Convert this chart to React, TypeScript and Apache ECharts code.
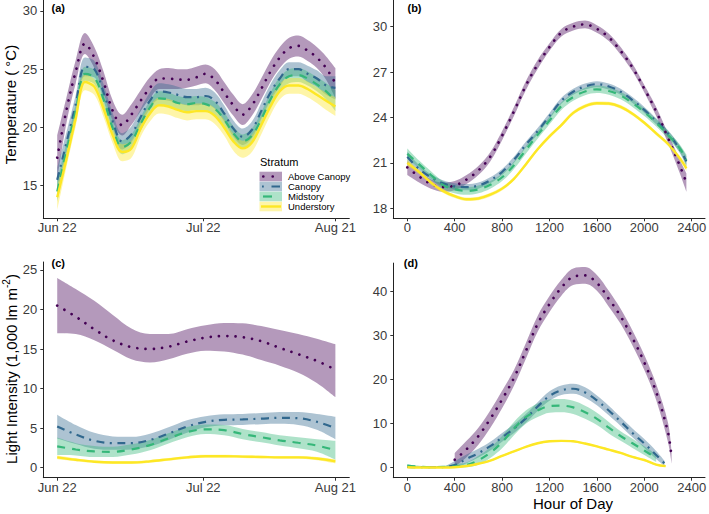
import React, { useEffect, useRef } from "react";
import * as echarts from "echarts";

const FONT = "'Liberation Sans', Arial, Helvetica, sans-serif";
const STRATA = ["Above Canopy", "Canopy", "Midstory", "Understory"];
const COLORS = ["#440154", "#31688E", "#35B779", "#FDE725"];

const DATE_TICKS = [0, 31.5, 60];
const DATE_TICK_LABELS = ["Jun 22", "Jul 22", "Aug 21"];
const HOUR_TICKS = [0, 400, 800, 1200, 1600, 2000, 2400];
const TEMP_DAY_TICKS = [15, 20, 25, 30];
const TEMP_HOUR_TICKS = [18, 21, 24, 27, 30];
const LIGHT_DAY_TICKS = [0, 5, 10, 15, 20, 25];
const LIGHT_HOUR_TICKS = [0, 10, 20, 30, 40];

// ---------- Panel (a): temperature by date (days after Jun 22) ----------
const DAYS_A = [0, 2, 4, 6, 8, 10, 12, 14, 16, 18, 20, 22, 24, 26, 28, 30, 32, 34, 36, 38, 40, 42, 44, 46, 48, 50, 52, 54, 56, 58, 60];
const A_AC = [17.4, 21.5, 24.8, 27.2, 26.0, 23.9, 21.4, 20.2, 21.1, 22.3, 23.4, 24.2, 24.2, 24.1, 24.1, 24.3, 24.6, 24.1, 23.0, 21.9, 21.1, 21.9, 23.3, 24.8, 26.0, 26.8, 27.0, 26.6, 26.0, 25.1, 23.8];
const A_AC_HI = [19.3, 22.6, 25.8, 28.1, 26.9, 24.8, 22.3, 21.1, 22.0, 23.2, 24.3, 25.0, 25.1, 25.0, 25.0, 25.2, 25.4, 25.0, 23.9, 22.8, 22.0, 22.8, 24.2, 25.7, 26.9, 27.7, 27.9, 27.5, 26.9, 26.1, 25.1];
const A_AC_LO = [15.5, 20.4, 23.8, 26.3, 25.1, 23.0, 20.5, 19.3, 20.2, 21.4, 22.5, 23.3, 23.3, 23.3, 23.4, 23.6, 23.8, 23.2, 22.1, 21.0, 20.2, 21.0, 22.4, 23.9, 25.1, 25.9, 26.1, 25.7, 25.1, 24.1, 22.5];
const A_CA = [15.5, 18.7, 22.0, 25.2, 25.0, 23.0, 20.5, 18.8, 19.4, 20.9, 22.3, 23.1, 23.0, 22.8, 22.6, 22.6, 22.7, 22.3, 21.2, 19.9, 19.2, 19.8, 21.4, 23.0, 24.2, 25.0, 25.0, 24.6, 24.2, 23.6, 23.4];
const A_CA_HI = [16.5, 19.6, 22.8, 26.0, 25.7, 23.7, 21.2, 19.5, 20.1, 21.6, 23.0, 23.8, 23.7, 23.5, 23.3, 23.3, 23.4, 23.0, 21.9, 20.6, 19.9, 20.5, 22.1, 23.7, 24.9, 25.6, 25.6, 25.3, 24.9, 24.4, 24.4];
const A_CA_LO = [14.5, 17.8, 21.2, 24.4, 24.3, 22.3, 19.8, 18.1, 18.7, 20.2, 21.6, 22.4, 22.3, 22.1, 21.9, 21.9, 22.0, 21.6, 20.5, 19.2, 18.5, 19.1, 20.7, 22.3, 23.5, 24.4, 24.4, 23.9, 23.5, 22.8, 22.4];
const A_MI = [14.5, 18.0, 21.4, 24.6, 24.3, 22.4, 19.9, 18.3, 18.8, 20.3, 21.7, 22.5, 22.4, 22.1, 22.0, 22.1, 22.0, 21.6, 20.7, 19.5, 18.8, 19.3, 20.7, 22.4, 23.7, 24.4, 24.5, 24.2, 23.7, 23.1, 22.3];
const A_MI_HI = [15.4, 18.7, 22.0, 25.2, 24.9, 23.0, 20.5, 18.9, 19.4, 20.9, 22.3, 23.1, 23.0, 22.7, 22.6, 22.7, 22.6, 22.2, 21.3, 20.1, 19.4, 19.9, 21.3, 23.0, 24.3, 25.0, 25.1, 24.8, 24.3, 23.8, 23.2];
const A_MI_LO = [13.6, 17.3, 20.8, 24.0, 23.7, 21.8, 19.3, 17.7, 18.2, 19.7, 21.1, 21.9, 21.8, 21.5, 21.4, 21.5, 21.4, 21.0, 20.1, 18.9, 18.2, 18.7, 20.1, 21.8, 23.1, 23.8, 23.9, 23.6, 23.1, 22.4, 21.4];
const A_UN = [14.0, 17.3, 20.8, 23.9, 23.5, 21.6, 19.3, 17.9, 18.2, 19.9, 21.2, 21.9, 21.8, 21.5, 21.3, 21.4, 21.4, 21.0, 20.0, 18.8, 18.2, 18.7, 20.2, 21.8, 23.1, 23.6, 23.6, 23.3, 22.8, 22.3, 21.8];
const A_UN_HI = [15.0, 17.95, 21.45, 24.55, 24.15, 22.25, 19.95, 18.55, 18.85, 20.55, 21.85, 22.55, 22.45, 22.15, 21.95, 22.05, 22.05, 21.65, 20.65, 19.45, 18.85, 19.35, 20.85, 22.45, 23.75, 24.25, 24.25, 23.95, 23.45, 23.0, 22.6];
const A_UN_LO = [12.9, 16.6, 20.1, 23.2, 22.8, 20.9, 18.6, 17.1, 17.4, 19.2, 20.5, 21.2, 21.1, 20.8, 20.6, 20.7, 20.7, 20.3, 19.3, 18.0, 17.4, 17.9, 19.4, 21.05, 22.4, 22.9, 22.9, 22.6, 22.1, 21.5, 21.0];

// ---------- Panel (b): temperature by hour of day ----------
const HOURS_B = [0, 100, 200, 300, 400, 500, 600, 700, 800, 900, 1000, 1100, 1200, 1300, 1400, 1500, 1600, 1700, 1800, 1900, 2000, 2100, 2200, 2300, 2355];
const B_AC = [20.7, 20.1, 19.6, 19.4, 19.5, 19.9, 20.5, 21.4, 22.8, 24.4, 26.1, 27.5, 28.65, 29.6, 30.0, 30.15, 29.85, 29.3, 28.4, 27.3, 25.9, 24.4, 22.65, 20.8, 19.7];
const B_AC_HI = [21.1, 20.45, 19.9, 19.7, 19.8, 20.2, 20.8, 21.7, 23.1, 24.7, 26.4, 27.8, 28.9, 29.85, 30.25, 30.4, 30.1, 29.55, 28.65, 27.55, 26.15, 24.7, 22.95, 21.2, 20.3];
const B_AC_LO = [20.2, 19.7, 19.3, 19.1, 19.2, 19.6, 20.2, 21.1, 22.5, 24.1, 25.8, 27.2, 28.4, 29.35, 29.75, 29.9, 29.6, 29.05, 28.15, 27.05, 25.65, 24.1, 22.3, 20.3, 19.1];
const B_CA = [21.4, 20.6, 20.05, 19.65, 19.45, 19.4, 19.5, 19.85, 20.4, 21.2, 22.2, 23.1, 24.1, 25.1, 25.7, 26.05, 26.2, 26.05, 25.7, 25.15, 24.5, 23.75, 22.95, 21.9, 21.1];
const B_CA_HI = [21.75, 20.85, 20.25, 19.85, 19.65, 19.6, 19.7, 20.05, 20.6, 21.4, 22.4, 23.3, 24.3, 25.3, 25.9, 26.25, 26.4, 26.25, 25.9, 25.35, 24.7, 23.95, 23.15, 22.15, 21.45];
const B_CA_LO = [21.05, 20.35, 19.85, 19.45, 19.25, 19.2, 19.3, 19.65, 20.2, 21.0, 22.0, 22.9, 23.9, 24.9, 25.5, 25.85, 26.0, 25.85, 25.5, 24.95, 24.3, 23.55, 22.75, 21.65, 20.75];
const B_MI = [21.6, 20.9, 20.2, 19.55, 19.25, 19.15, 19.25, 19.55, 20.05, 20.85, 21.85, 22.85, 23.8, 24.75, 25.35, 25.72, 25.86, 25.75, 25.45, 24.95, 24.35, 23.65, 22.85, 21.95, 21.2];
const B_MI_HI = [21.95, 21.15, 20.45, 19.8, 19.5, 19.4, 19.5, 19.8, 20.3, 21.1, 22.1, 23.1, 24.05, 25.0, 25.6, 25.97, 26.11, 26.0, 25.7, 25.2, 24.6, 23.9, 23.1, 22.2, 21.55];
const B_MI_LO = [21.25, 20.65, 19.95, 19.3, 19.0, 18.9, 19.0, 19.3, 19.8, 20.6, 21.6, 22.6, 23.55, 24.5, 25.1, 25.47, 25.61, 25.5, 25.2, 24.7, 24.1, 23.4, 22.6, 21.7, 20.85];
const B_UN = [21.0, 20.4, 19.7, 19.15, 18.8, 18.6, 18.65, 18.9, 19.3, 19.95, 20.9, 21.9, 22.75, 23.5, 24.3, 24.75, 24.94, 24.92, 24.7, 24.25, 23.65, 22.95, 22.25, 21.3, 20.64];
const B_UN_HI = [21.2, 20.52, 19.82, 19.27, 18.92, 18.72, 18.77, 19.02, 19.42, 20.07, 21.02, 22.02, 22.87, 23.62, 24.42, 24.87, 25.06, 25.04, 24.82, 24.37, 23.77, 23.07, 22.37, 21.45, 20.85];
const B_UN_LO = [20.8, 20.28, 19.58, 19.03, 18.68, 18.48, 18.53, 18.78, 19.18, 19.83, 20.78, 21.78, 22.63, 23.38, 24.18, 24.63, 24.82, 24.8, 24.58, 24.13, 23.53, 22.83, 22.13, 21.15, 20.45];

// ---------- Panel (c): light intensity by date ----------
const DAYS_C = [0, 4, 8, 12, 16, 20, 24, 28, 32, 36, 40, 44, 48, 52, 56, 60];
const C_AC = [20.5, 19.1, 17.5, 16.1, 15.25, 15.0, 15.3, 15.95, 16.45, 16.65, 16.5, 16.0, 15.15, 14.35, 13.5, 12.4];
const C_AC_HI = [24.0, 22.6, 21.1, 19.3, 17.6, 16.9, 16.9, 17.5, 18.0, 18.3, 18.25, 17.9, 17.4, 16.9, 16.3, 15.6];
const C_AC_LO = [17.0, 16.9, 16.1, 14.9, 13.7, 13.3, 13.7, 14.4, 14.8, 14.7, 14.3, 13.6, 12.9, 12.0, 10.7, 8.9];
const C_CA = [5.2, 4.2, 3.4, 3.1, 3.1, 3.5, 4.3, 5.2, 5.8, 6.05, 6.1, 6.2, 6.3, 6.25, 5.8, 5.0];
const C_CA_HI = [6.7, 5.4, 4.4, 3.95, 3.9, 4.3, 5.1, 6.0, 6.5, 6.75, 6.8, 6.9, 7.05, 7.05, 6.8, 6.45];
const C_CA_LO = [3.7, 3.0, 2.4, 2.25, 2.3, 2.7, 3.5, 4.4, 5.1, 5.35, 5.4, 5.5, 5.55, 5.4, 4.8, 3.6];
const C_MI = [2.7, 2.3, 2.05, 2.0, 2.3, 2.85, 3.7, 4.5, 4.85, 4.75, 4.25, 3.85, 3.45, 3.15, 2.8, 2.2];
const C_MI_HI = [3.8, 3.1, 2.75, 2.65, 2.95, 3.5, 4.35, 5.15, 5.45, 5.4, 4.9, 4.5, 4.1, 3.85, 3.6, 3.4];
const C_MI_LO = [1.6, 1.55, 1.35, 1.35, 1.65, 2.2, 3.05, 3.85, 4.25, 4.1, 3.6, 3.2, 2.8, 2.45, 2.0, 1.0];
const C_UN = [1.3, 1.0, 0.75, 0.65, 0.65, 0.8, 1.05, 1.3, 1.45, 1.45, 1.4, 1.35, 1.3, 1.3, 1.15, 0.8];
const C_UN_HI = [1.55, 1.2, 0.92, 0.82, 0.82, 0.97, 1.22, 1.47, 1.62, 1.62, 1.57, 1.52, 1.47, 1.47, 1.35, 1.05];
const C_UN_LO = [1.05, 0.8, 0.58, 0.48, 0.48, 0.63, 0.88, 1.13, 1.28, 1.28, 1.23, 1.18, 1.13, 1.13, 0.95, 0.55];

// ---------- Panel (d): light intensity by hour of day ----------
const D_AC_X = [400, 500, 600, 700, 800, 900, 1000, 1100, 1200, 1300, 1400, 1500, 1600, 1700, 1800, 1900, 2000, 2100, 2200, 2230];
const D_AC = [1.8, 4.2, 7.2, 11.1, 15.5, 20.4, 26.5, 32.7, 37.2, 40.9, 43.4, 43.7, 42.0, 38.4, 34.4, 29.5, 23.9, 17.2, 8.0, 2.3];
const D_AC_HI = [3.3, 6.1, 9.1, 13.0, 17.5, 22.2, 28.3, 34.5, 39.0, 42.7, 45.3, 45.6, 43.8, 40.2, 36.1, 31.2, 25.6, 19.0, 10.2, 3.6];
const D_AC_LO = [0.3, 2.4, 5.2, 9.0, 13.5, 18.6, 24.7, 30.9, 35.4, 39.1, 41.5, 41.8, 40.2, 36.6, 32.7, 27.8, 22.2, 15.4, 5.8, 1.0];
const D_CA_X = [0, 100, 200, 300, 400, 500, 600, 700, 800, 900, 1000, 1100, 1200, 1300, 1400, 1500, 1600, 1700, 1800, 1900, 2000, 2100, 2170];
const D_CA = [0.2, 0.1, 0.1, 0.15, 0.6, 2.0, 3.3, 4.9, 6.9, 8.9, 11.2, 13.9, 16.3, 17.6, 17.95, 17.1, 15.3, 13.0, 10.5, 7.9, 5.5, 2.9, 1.0];
const D_CA_HI = [0.4, 0.25, 0.25, 0.3, 1.5, 3.0, 4.3, 5.9, 7.9, 9.9, 12.2, 14.9, 17.4, 18.7, 19.1, 18.3, 16.4, 14.1, 11.5, 8.9, 6.5, 3.8, 1.6];
const D_CA_LO = [0.0, 0.0, 0.0, 0.0, 0.0, 1.0, 2.3, 3.9, 5.9, 7.9, 10.2, 12.9, 15.2, 16.5, 16.8, 15.9, 14.2, 11.9, 9.5, 6.9, 4.5, 2.0, 0.4];
const D_MI_X = [0, 100, 200, 300, 400, 500, 600, 700, 800, 900, 1000, 1100, 1200, 1300, 1400, 1500, 1600, 1700, 1800, 1900, 2000, 2100];
const D_MI = [0.5, 0.25, 0.15, 0.2, 0.3, 0.6, 1.7, 3.4, 5.8, 8.9, 11.5, 13.0, 14.0, 14.1, 13.7, 12.6, 11.1, 9.1, 7.2, 5.55, 3.9, 2.2];
const D_MI_HI = [0.8, 0.45, 0.3, 0.35, 0.9, 1.2, 2.7, 4.6, 7.2, 10.4, 13.0, 14.6, 15.5, 15.6, 15.2, 14.1, 12.5, 10.4, 8.3, 6.6, 4.9, 3.1];
const D_MI_LO = [0.2, 0.05, 0.0, 0.05, 0.0, 0.1, 0.7, 2.2, 4.4, 7.4, 10.0, 11.5, 12.5, 12.6, 12.2, 11.1, 9.7, 7.8, 6.1, 4.5, 2.9, 1.3];
const D_UN_X = [0, 100, 200, 300, 400, 500, 600, 700, 800, 900, 1000, 1100, 1200, 1300, 1400, 1500, 1600, 1700, 1800, 1900, 2000, 2100, 2180];
const D_UN = [0.1, 0.05, 0.05, 0.05, 0.1, 0.4, 0.9, 1.6, 2.7, 3.7, 4.75, 5.55, 6.0, 6.1, 6.0, 5.5, 4.85, 4.1, 3.35, 2.45, 1.75, 0.7, 0.35];
const D_UN_HI = [0.2, 0.15, 0.15, 0.15, 0.25, 0.6, 1.1, 1.8, 2.9, 3.9, 4.95, 5.75, 6.2, 6.3, 6.2, 5.7, 5.05, 4.3, 3.55, 2.65, 1.95, 0.9, 0.55];
const D_UN_LO = [0.0, 0.0, 0.0, 0.0, 0.0, 0.2, 0.7, 1.4, 2.5, 3.5, 4.55, 5.35, 5.8, 5.9, 5.8, 5.3, 4.65, 3.9, 3.15, 2.25, 1.55, 0.5, 0.15];

const LINE_STYLES: any[] = [
  { type: [0.01, 8.3], width: 2.7, cap: "round" },
  { type: [8, 5.5, 2, 5.5], width: 2.2, cap: "butt" },
  { type: [8, 7], width: 2.2, cap: "butt" },
  { type: "solid", width: 2.4, cap: "butt" },
];
const SMOOTH = 0.35;
const BAND_OPACITY = 0.4;

type Stratum = { x: number[]; mid: number[]; hi: number[]; lo: number[] };

// Ribbons are stacked areas: [value, x] items with encode so that the stacked dimension is y.
function panelSeries(g: number, strata: Stratum[]) {
  const ribbons: any[] = [];
  const lines: any[] = [];
  strata.forEach((s, k) => {
    const key = `band-${g}-${k}`;
    ribbons.push({
      type: "line", xAxisIndex: g, yAxisIndex: g, stack: key, stackStrategy: "all",
      data: s.x.map((x, i) => [s.lo[i], x]), encode: { x: 1, y: 0 },
      symbol: "none", smooth: SMOOTH, silent: true,
      lineStyle: { width: 0, opacity: 0 }, z: 1,
    });
    ribbons.push({
      type: "line", xAxisIndex: g, yAxisIndex: g, stack: key, stackStrategy: "all",
      data: s.x.map((x, i) => [+(s.hi[i] - s.lo[i]).toFixed(4), x]), encode: { x: 1, y: 0 },
      symbol: "none", smooth: SMOOTH, silent: true,
      lineStyle: { width: 0, opacity: 0 }, areaStyle: { color: COLORS[k], opacity: BAND_OPACITY }, z: 1,
    });
    lines.push({
      type: "line", name: STRATA[k], xAxisIndex: g, yAxisIndex: g,
      data: s.x.map((x, i) => [x, s.mid[i]]), symbol: "none", smooth: SMOOTH, silent: true,
      lineStyle: { color: COLORS[k], ...LINE_STYLES[k] }, z: 3,
    });
  });
  return [...ribbons, ...lines];
}

const axisBase = {
  type: "value",
  axisLine: { show: true, onZero: false, lineStyle: { color: "#222", width: 1 } },
  splitLine: { show: false },
};
function xAxisCfg(g: number, min: number, max: number, ticks: number[], fmt?: (v: number) => string) {
  return {
    ...axisBase, gridIndex: g, min, max,
    axisTick: { show: true, length: 3, customValues: ticks, lineStyle: { color: "#333" } },
    axisLabel: { customValues: ticks, color: "#3a3a3a", fontSize: 13, lineHeight: 13, fontFamily: FONT, margin: 3, formatter: fmt || ((v: number) => String(v)) },
  };
}
function yAxisCfg(g: number, min: number, max: number, ticks: number[]) {
  return {
    ...axisBase, gridIndex: g, min, max,
    axisTick: { show: true, length: 3, customValues: ticks, lineStyle: { color: "#333" } },
    axisLabel: { customValues: ticks, color: "#3a3a3a", fontSize: 13, fontFamily: FONT, margin: 6 },
  };
}
const dateFmt = (v: number) => {
  const i = DATE_TICKS.indexOf(v);
  return i >= 0 ? DATE_TICK_LABELS[i] : "";
};

function legendGraphics() {
  const els: any[] = [
    { type: "text", x: 260, y: 162, style: { text: "Stratum", fontSize: 11, fontFamily: FONT, fill: "#000", align: "left", verticalAlign: "middle" } },
  ];
  const lineDefs = [
    { x1: 263.3, x2: 273, dash: [0.01, 9.4], w: 2.7, cap: "round" },
    { x1: 262, x2: 280, dash: [1.8, 7.7, 8.5, 20], w: 2.2, cap: "butt" },
    { x1: 263, x2: 272, dash: null, w: 2.2, cap: "butt" },
    { x1: 261, x2: 281, dash: null, w: 2.4, cap: "butt" },
  ];
  STRATA.forEach((name, i) => {
    const top = 171.7 + 10 * i;
    els.push({ type: "rect", shape: { x: 259.5, y: top, width: 22.5, height: 9.6 }, style: { fill: COLORS[i], opacity: BAND_OPACITY } });
    const d = lineDefs[i];
    els.push({ type: "line", shape: { x1: d.x1, y1: top + 4.8, x2: d.x2, y2: top + 4.8 }, style: { stroke: COLORS[i], lineWidth: d.w, lineDash: d.dash || undefined, lineCap: d.cap } });
    els.push({ type: "text", x: 288, y: top + 5, style: { text: name, fontSize: 9.5, fontFamily: FONT, fill: "#000", align: "left", verticalAlign: "middle" } });
  });
  return els;
}

export default function App() {
  const ref = useRef<HTMLDivElement>(null);
  useEffect(() => {
    document.body.style.margin = "0";
    if (!ref.current) return;
    const chart = echarts.init(ref.current, undefined, { renderer: "svg" });
    const series = [
      ...panelSeries(0, [
        { x: DAYS_A, mid: A_AC, hi: A_AC_HI, lo: A_AC_LO },
        { x: DAYS_A, mid: A_CA, hi: A_CA_HI, lo: A_CA_LO },
        { x: DAYS_A, mid: A_MI, hi: A_MI_HI, lo: A_MI_LO },
        { x: DAYS_A, mid: A_UN, hi: A_UN_HI, lo: A_UN_LO },
      ]),
      ...panelSeries(1, [
        { x: HOURS_B, mid: B_AC, hi: B_AC_HI, lo: B_AC_LO },
        { x: HOURS_B, mid: B_CA, hi: B_CA_HI, lo: B_CA_LO },
        { x: HOURS_B, mid: B_MI, hi: B_MI_HI, lo: B_MI_LO },
        { x: HOURS_B, mid: B_UN, hi: B_UN_HI, lo: B_UN_LO },
      ]),
      ...panelSeries(2, [
        { x: DAYS_C, mid: C_AC, hi: C_AC_HI, lo: C_AC_LO },
        { x: DAYS_C, mid: C_CA, hi: C_CA_HI, lo: C_CA_LO },
        { x: DAYS_C, mid: C_MI, hi: C_MI_HI, lo: C_MI_LO },
        { x: DAYS_C, mid: C_UN, hi: C_UN_HI, lo: C_UN_LO },
      ]),
      ...panelSeries(3, [
        { x: D_AC_X, mid: D_AC, hi: D_AC_HI, lo: D_AC_LO },
        { x: D_CA_X, mid: D_CA, hi: D_CA_HI, lo: D_CA_LO },
        { x: D_MI_X, mid: D_MI, hi: D_MI_HI, lo: D_MI_LO },
        { x: D_UN_X, mid: D_UN, hi: D_UN_HI, lo: D_UN_LO },
      ]),
    ];
    const option: any = {
      animation: false,
      backgroundColor: "#ffffff",
      textStyle: { fontFamily: FONT },
      grid: [
        { left: 43.3, top: 0, width: 306, height: 218.3, outerBoundsMode: "none" },
        { left: 393.3, top: 0, width: 311.7, height: 218.3, outerBoundsMode: "none" },
        { left: 43.3, top: 262, width: 306, height: 215.7, outerBoundsMode: "none" },
        { left: 393.3, top: 263.1, width: 311.7, height: 214.6, outerBoundsMode: "none" },
      ],
      xAxis: [
        xAxisCfg(0, -3, 63, DATE_TICKS, dateFmt),
        xAxisCfg(1, -118, 2512, HOUR_TICKS),
        xAxisCfg(2, -3, 63, DATE_TICKS, dateFmt),
        xAxisCfg(3, -118, 2512, HOUR_TICKS),
      ],
      yAxis: [
        yAxisCfg(0, 12.2, 30.94, TEMP_DAY_TICKS),
        yAxisCfg(1, 17.34, 31.76, TEMP_HOUR_TICKS),
        yAxisCfg(2, -1.27, 26.01, LIGHT_DAY_TICKS),
        yAxisCfg(3, -2.27, 46.5, LIGHT_HOUR_TICKS),
      ],
      series,
      graphic: [
        { type: "text", x: 58.3, y: 8, style: { text: "(a)", fontSize: 11, fontWeight: "bold", fontFamily: FONT, fill: "#000", align: "center", verticalAlign: "middle" } },
        { type: "text", x: 414.5, y: 8, style: { text: "(b)", fontSize: 11, fontWeight: "bold", fontFamily: FONT, fill: "#000", align: "center", verticalAlign: "middle" } },
        { type: "text", x: 58.3, y: 263, style: { text: "(c)", fontSize: 11, fontWeight: "bold", fontFamily: FONT, fill: "#000", align: "center", verticalAlign: "middle" } },
        { type: "text", x: 410.8, y: 263, style: { text: "(d)", fontSize: 11, fontWeight: "bold", fontFamily: FONT, fill: "#000", align: "center", verticalAlign: "middle" } },
        { type: "text", x: 573, y: 503, style: { text: "Hour of Day", fontSize: 15, lineHeight: 15, fontFamily: FONT, fill: "#000", align: "center", verticalAlign: "middle" } },
        { type: "text", x: 10.5, y: 104.5, rotation: Math.PI / 2, style: { text: "Temperature ( °C)", fontSize: 15, fontFamily: FONT, fill: "#000", align: "center", verticalAlign: "middle" } },
        {
          type: "text", x: 11.5, y: 369, rotation: Math.PI / 2,
          style: {
            text: "{n|Light Intensity (1,000 lm m}{s|-2}{n|)}",
            align: "center", verticalAlign: "middle",
            rich: {
              n: { fontSize: 15, lineHeight: 20, fontFamily: FONT, fill: "#000" },
              s: { fontSize: 10, lineHeight: 11, fontFamily: FONT, fill: "#000", verticalAlign: "top" },
            },
          },
        },
        ...legendGraphics(),
      ],
    };
    chart.setOption(option);
    return () => chart.dispose();
  }, []);
  return <div ref={ref} style={{ position: "fixed", left: 0, top: 0, width: 709, height: 514, background: "#fff" }} />;
}
